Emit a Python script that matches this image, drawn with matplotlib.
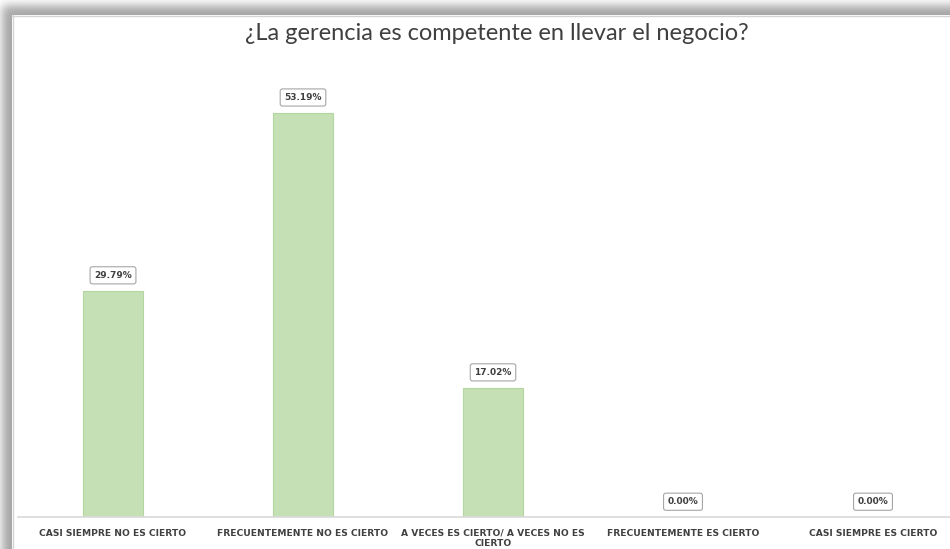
import numpy as np
import matplotlib
matplotlib.use("Agg")
import matplotlib.pyplot as plt

# Survey answers and share of respondents (%)
categories = [
    "CASI SIEMPRE NO ES CIERTO",
    "FRECUENTEMENTE NO ES CIERTO",
    "A VECES ES CIERTO/ A VECES NO ES\nCIERTO",
    "FRECUENTEMENTE ES CIERTO",
    "CASI SIEMPRE ES CIERTO",
]
percentages = [29.79, 53.19, 17.02, 0.00, 0.00]
title = "¿La gerencia es competente en llevar el negocio?"

bar_color = "#c5e0b4"
edge_color = "#b4d6a0"
text_color = "#404040"

W, H = 950, 549
fig = plt.figure(figsize=(W / 100, H / 100), dpi=100)
fig.patch.set_facecolor("white")

# Drop shadow around the top and left edges of the chart panel
bg = fig.add_axes([0, 0, 1, 1])
xx, yy = np.meshgrid(np.arange(W), np.arange(H))
def ramp(v, start):
    return 1.0 / (1.0 + np.exp(-(v - start) / 3.0))
shade = 1.0 - 0.36 * ramp(xx, 2.0) * ramp(yy, 5.0)
shade[(xx >= 12) & (yy >= 15)] = 1.0
bg.imshow(shade, cmap="gray", vmin=0, vmax=1, aspect="auto",
          extent=(0, W, H, 0), interpolation="bilinear")
bg.axhline(15.5, xmin=12 / W, xmax=1, color="#d4d4d4", lw=1)
bg.axvline(12.5, ymin=0, ymax=1 - 15 / H, color="#d4d4d4", lw=1)
bg.set_xlim(0, W)
bg.set_ylim(H, 0)
bg.axis("off")

ax = fig.add_axes([18 / W, (H - 517) / H, 950 / W, 456 / H])
ax.patch.set_alpha(0)
x = np.arange(len(categories))
bars = ax.bar(x, percentages, width=0.315, color=bar_color,
              edgecolor=edge_color, linewidth=0.8, zorder=2)

for xi, val in zip(x, percentages):
    ax.annotate(f"{val:.2f}%", (xi, val), xytext=(0, 11),
                textcoords="offset points", ha="center", va="center",
                fontsize=6.5, fontweight="bold", color=text_color,
                fontfamily="DejaVu Sans",
                bbox=dict(boxstyle="round,pad=0.45,rounding_size=0.25",
                          fc="white", ec="#a6a6a6", lw=0.8))

ax.set_xlim(-0.5, 4.5)
ax.set_ylim(0, 60)
ax.set_xticks(x)
ax.set_xticklabels(categories, fontsize=6.6, color=text_color,
                   fontfamily="DejaVu Sans", fontweight="bold",
                   linespacing=1.1)
ax.tick_params(axis="x", length=0, pad=8.5)
ax.set_yticks([])
for side in ["top", "right", "left"]:
    ax.spines[side].set_visible(False)
ax.spines["bottom"].set_color("#d9d9d9")
ax.spines["bottom"].set_linewidth(1.2)

fig.text(497 / W, 1 - 34 / H, title, ha="center", va="center",
         fontsize=17, color=text_color, fontfamily="Lato")

fig.savefig("out.png", dpi=100)
